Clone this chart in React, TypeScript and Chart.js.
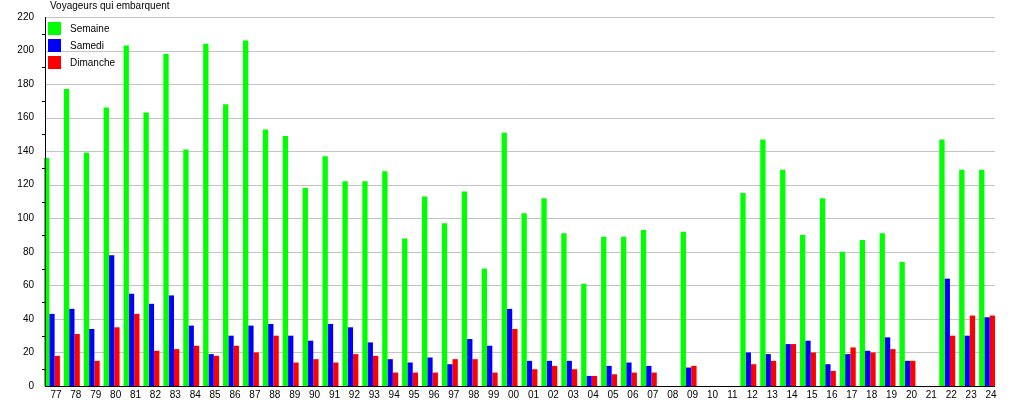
import { useEffect, useRef } from 'react';
import { Chart, registerables } from 'chart.js';

Chart.register(...registerables);

const chartTitle = 'Voyageurs qui embarquent';

const years = [
  '77', '78', '79', '80', '81', '82', '83', '84', '85', '86', '87', '88',
  '89', '90', '91', '92', '93', '94', '95', '96', '97', '98', '99', '00',
  '01', '02', '03', '04', '05', '06', '07', '08', '09', '10', '11', '12',
  '13', '14', '15', '16', '17', '18', '19', '20', '21', '22', '23', '24',
];

const semaine = [
  136, 177, 139, 166, 203, 163, 198, 141, 204, 168, 206, 153,
  149, 118, 137, 122, 122, 128, 88, 113, 97, 116, 70, 151,
  103, 112, 91, 61, 89, 89, 93, null, 92, null, null, 115,
  147, 129, 90, 112, 80, 87, 91, 74, null, 147, 129, 129,
];

const samedi = [
  43, 46, 34, 78, 55, 49, 54, 36, 19, 30, 36, 37,
  30, 27, 37, 35, 26, 16, 14, 17, 13, 28, 24, 46,
  15, 15, 15, 6, 12, 14, 12, null, 11, null, null, 20,
  19, 25, 27, 13, 19, 21, 29, 15, null, 64, 30, 41,
];

const dimanche = [
  18, 31, 15, 35, 43, 21, 22, 24, 18, 24, 20, 30,
  14, 16, 14, 19, 18, 8, 8, 8, 16, 16, 8, 34,
  10, 12, 10, 6, 7, 8, 8, null, 12, null, null, 13,
  15, 25, 20, 9, 23, 20, 22, 15, null, 30, 42, 42,
];

const seriesNames = ['Semaine', 'Samedi', 'Dimanche'];
const seriesColors = ['#00ff00', '#0000ff', '#ff0000'];

const yMin = 0;
const yMax = 220;
const yStep = 20;
const yMinorStep = 10;

const FONT = 'Liberation Sans, Arial, sans-serif';

const decorPlugin = {
  id: 'decor',
  beforeDatasetsDraw(chart: any) {
    const { ctx, chartArea, scales } = chart;
    const y = scales.y;
    ctx.save();
    ctx.strokeStyle = '#c4c4c4';
    ctx.lineWidth = 1;
    for (let v = yMin + yStep; v <= yMax; v += yStep) {
      const py = Math.round(y.getPixelForValue(v)) + 0.5;
      ctx.beginPath();
      ctx.moveTo(46, py);
      ctx.lineTo(chartArea.right - 2, py);
      ctx.stroke();
    }
    ctx.restore();
  },
  afterDatasetsDraw(chart: any) {
    const { ctx, chartArea, scales } = chart;
    const y = scales.y;
    ctx.save();
    ctx.strokeStyle = '#000';
    ctx.lineWidth = 1;
    const y0 = Math.round(y.getPixelForValue(0)) + 0.5;
    const yTop = Math.round(y.getPixelForValue(yMax));
    // x axis line
    ctx.beginPath();
    ctx.moveTo(45, y0);
    ctx.lineTo(chartArea.right - 2, y0);
    ctx.stroke();
    // y axis line
    ctx.beginPath();
    ctx.moveTo(45.5, yTop);
    ctx.lineTo(45.5, y0);
    ctx.stroke();
    // minor ticks
    for (let v = yMin + yMinorStep; v < yMax; v += yStep) {
      const py = Math.round(y.getPixelForValue(v)) + 0.5;
      ctx.beginPath();
      ctx.moveTo(42, py);
      ctx.lineTo(45, py);
      ctx.stroke();
    }
    // title
    ctx.fillStyle = '#000';
    ctx.font = `10px ${FONT}`;
    ctx.textAlign = 'left';
    ctx.textBaseline = 'middle';
    ctx.fillText(chartTitle, 50, 6);
    // legend
    chart.data.datasets.forEach((ds: any, i: number) => {
      const top = 22 + i * 17;
      ctx.fillStyle = ds.backgroundColor;
      ctx.fillRect(48, top, 13, 13);
      ctx.fillStyle = '#000';
      ctx.fillText(ds.label, 70, top + 7.5);
    });
    ctx.restore();
  },
};

export default function App() {
  const ref = useRef<HTMLCanvasElement>(null);

  useEffect(() => {
    const datasets = [semaine, samedi, dimanche].map((d, i) => ({
      label: seriesNames[i],
      data: d,
      backgroundColor: seriesColors[i],
      borderWidth: 0,
      categoryPercentage: 0.8,
      barPercentage: 1,
    }));
    const chart = new Chart(ref.current as HTMLCanvasElement, {
      type: 'bar',
      data: { labels: years, datasets },
      options: {
        animation: false,
        responsive: false,
        layout: { padding: { top: 17, right: 18, bottom: 0, left: 0 } },
        plugins: {
          legend: { display: false },
          title: { display: false },
          tooltip: { enabled: false },
        },
        scales: {
          x: {
            grid: { display: false, drawTicks: false },
            border: { display: false },
            ticks: {
              color: '#000',
              font: { family: FONT, size: 10 },
              padding: 3,
              labelOffset: 4,
              autoSkip: false,
              maxRotation: 0,
              minRotation: 0,
            },
            afterFit: (s: any) => {
              s.height = 13;
            },
          },
          y: {
            min: yMin,
            max: yMax,
            grid: { display: false, drawTicks: false },
            border: { display: false },
            ticks: {
              stepSize: yStep,
              color: '#000',
              font: { family: FONT, size: 10 },
              padding: 8,
            },
            afterFit: (s: any) => {
              s.width = 42;
            },
          },
        },
      },
      plugins: [decorPlugin],
    });
    return () => chart.destroy();
  }, []);

  return (
    <div style={{ position: 'absolute', left: 0, top: 0, width: 1015, height: 400, background: '#fff' }}>
      <canvas ref={ref} width={1015} height={400} style={{ display: 'block' }} />
    </div>
  );
}
